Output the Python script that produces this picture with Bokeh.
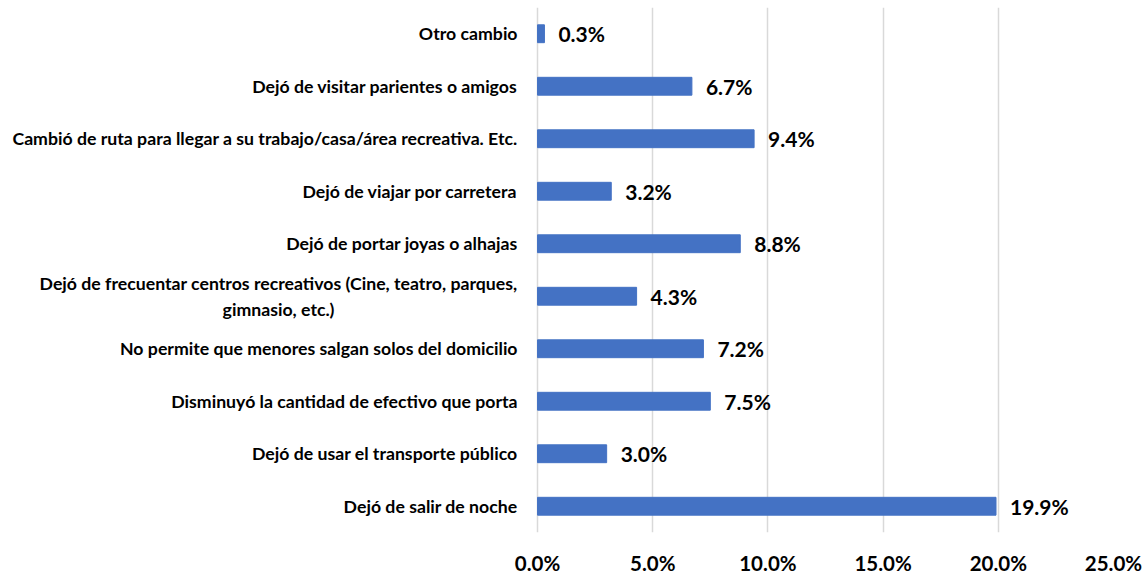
from bokeh.plotting import figure
from bokeh.embed import file_html
from bokeh.resources import INLINE
from bokeh.models import ColumnDataSource, FixedTicker, NumeralTickFormatter, Range1d, FactorRange
from bokeh.core.properties import value

categories = [
    "Dejó de salir de noche",
    "Dejó de usar el transporte público",
    "Disminuyó la cantidad de efectivo que porta",
    "No permite que menores salgan solos del domicilio",
    "Dejó de frecuentar centros recreativos (Cine, teatro, parques,\ngimnasio, etc.)",
    "Dejó de portar joyas o alhajas",
    "Dejó de viajar por carretera",
    "Cambió de ruta para llegar a su trabajo/casa/área recreativa. Etc.",
    "Dejó de visitar parientes o amigos",
    "Otro cambio",
]
values = [0.199, 0.030, 0.075, 0.072, 0.043, 0.088, 0.032, 0.094, 0.067, 0.003]
labels = ["19.9%", "3.0%", "7.5%", "7.2%", "4.3%", "8.8%", "3.2%", "9.4%", "6.7%", "0.3%"]
x_ticks = [0.0, 0.05, 0.10, 0.15, 0.20, 0.25]

multi_idx = 4
FONT = "Lato"

yr = FactorRange(factors=categories, range_padding=0)

single = [c for i, c in enumerate(categories) if i != multi_idx]
multi = [categories[multi_idx]]
src_single = ColumnDataSource(dict(cat=single, txt=single, x0=[0.0] * len(single)))
src_multi = ColumnDataSource(dict(cat=multi, txt=multi, x0=[0.0]))
src = ColumnDataSource(dict(cat=categories, val=values, lab=labels))

# frame spans the label area too (x < 0), so the category labels are text glyphs
p = figure(
    y_range=yr,
    x_range=Range1d(-0.2331, 0.25),
    width=1146, height=578,
    output_backend="svg", toolbar_location=None,
    y_axis_location=None,
    min_border_left=0, min_border_right=33, min_border_top=7, min_border_bottom=46,
)
p.outline_line_color = None
p.background_fill_color = "white"
p.border_fill_color = "white"

p.hbar(y="cat", right="val", left=0, height=0.34, color="#4472C4", source=src)
p.text(x="val", y="cat", text="lab", source=src, x_offset=14,
       text_baseline="middle", text_align="left",
       text_font=value(FONT), text_font_style="bold", text_font_size="21px",
       text_color="#000000")

p.text(x="x0", y="cat", text="txt", source=src_single, x_offset=-20,
       text_align="right", text_baseline="middle",
       text_font=value(FONT), text_font_style="bold", text_font_size="17.7px",
       text_color="#000000")
p.text(x="x0", y="cat", text="txt", source=src_multi, x_offset=-259,
       text_align="center", text_baseline="middle", text_line_height=1.25,
       text_font=value(FONT), text_font_style="bold", text_font_size="17.7px",
       text_color="#000000")

p.xaxis.ticker = FixedTicker(ticks=x_ticks)
p.xaxis.formatter = NumeralTickFormatter(format="0.0%")
p.xaxis.axis_line_color = None
p.xaxis.major_tick_line_color = None
p.xaxis.minor_tick_line_color = None
p.xaxis.major_label_text_font = FONT
p.xaxis.major_label_text_font_style = "bold"
p.xaxis.major_label_text_font_size = "20.5px"
p.xaxis.major_label_text_color = "#000000"
p.xaxis.major_label_standoff = 12

p.ygrid.grid_line_color = None
p.xgrid.grid_line_color = "#d9d9d9"
p.xgrid.grid_line_width = 1.5

open("out.html", "w").write(file_html(p, INLINE))
